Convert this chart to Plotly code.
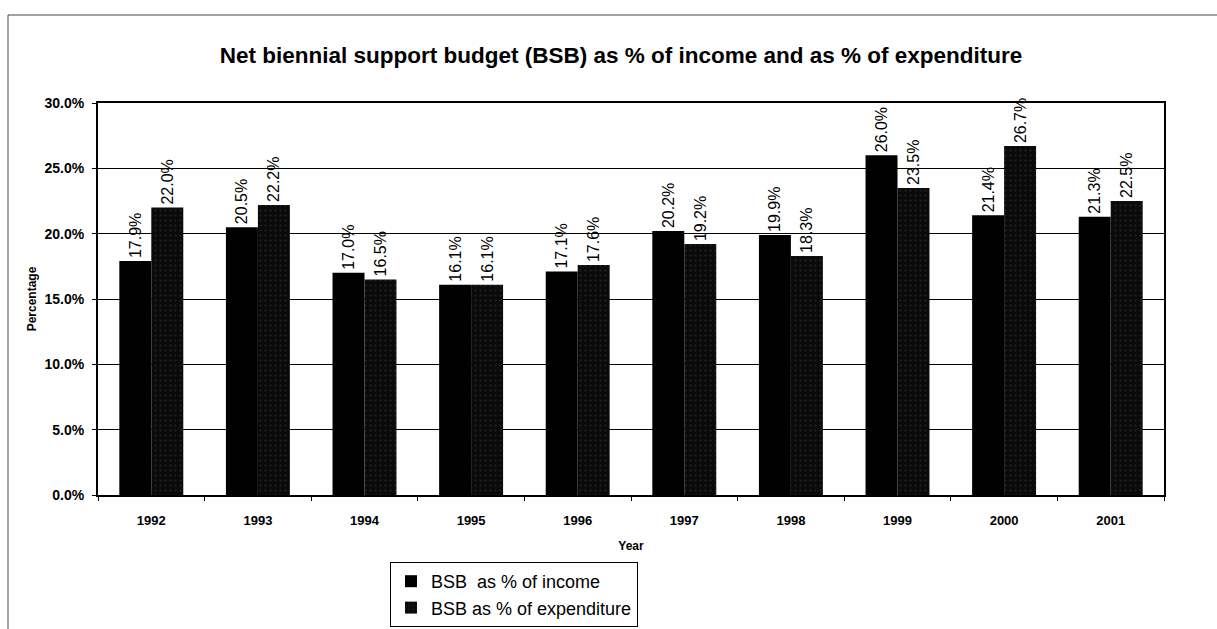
import plotly.graph_objects as go

years = ["1992", "1993", "1994", "1995", "1996", "1997", "1998", "1999", "2000", "2001"]
income_pct = [17.9, 20.5, 17.0, 16.1, 17.1, 20.2, 19.9, 26.0, 21.4, 21.3]
expenditure_pct = [22.0, 22.2, 16.5, 16.1, 17.6, 19.2, 18.3, 23.5, 26.7, 22.5]
series_names = ["BSB  as % of income", "BSB as % of expenditure"]

FONT = "Liberation Sans, Arial, sans-serif"

fig = go.Figure()
fig.add_trace(go.Bar(
    x=years, y=income_pct, name=series_names[0],
    marker=dict(color="#000000", line=dict(width=0)),
    texttemplate="%{y:.1f}%", textposition="outside", textangle=-90,
    constraintext="none",
    textfont=dict(family=FONT, size=16, color="#000"),
    cliponaxis=False,
))
fig.add_trace(go.Bar(
    x=years, y=expenditure_pct, name=series_names[1],
    marker=dict(color="#111111", line=dict(width=0),
                pattern=dict(shape=".", fgcolor="#3c3c3c", bgcolor="#0a0a0a", size=5, solidity=0.15)),
    texttemplate="%{y:.1f}%", textposition="outside", textangle=-90,
    constraintext="none",
    textfont=dict(family=FONT, size=16, color="#000"),
    cliponaxis=False,
))

L, R, T, B = 98, 53, 103, 134
W, H = 1217, 629
pw, ph = W - L - R, H - T - B

def px_x(x):
    return (x - L) / pw

def px_y(y):
    return (H - B - y) / ph

fig.update_layout(
    width=W, height=H,
    margin=dict(l=L, r=R, t=T, b=B, autoexpand=False),
    paper_bgcolor="white", plot_bgcolor="white",
    font=dict(family=FONT, color="#000"),
    bargap=0.4, bargroupgap=0,
    barmode="group",
    title=dict(
        text="<b>Net biennial support budget (BSB) as % of income and as % of expenditure</b>",
        x=621 / W, xanchor="center", y=1 - 55 / H, yanchor="middle",
        font=dict(family=FONT, size=22.5, color="#000", weight="bold"),
    ),
    xaxis=dict(
        type="category", automargin=False,
        showline=True, linecolor="#000", linewidth=2, mirror=True,
        ticks="outside", ticklen=4, tickcolor="#000", tickson="boundaries",
        ticklabelstandoff=12,
        tickfont=dict(family=FONT, size=13, color="#000", weight="bold"),
        title=dict(text="<b>Year</b>", font=dict(family=FONT, size=12, color="#000"), standoff=15),
        showgrid=False,
    ),
    yaxis=dict(
        range=[0, 30], dtick=5, tickformat=".1f", ticksuffix="%", automargin=False,
        showline=True, linecolor="#000", linewidth=2, mirror=True,
        ticks="outside", ticklen=4, tickcolor="#000",
        ticklabelstandoff=5,
        gridcolor="#000", gridwidth=1,
        tickfont=dict(family=FONT, size=14, color="#000", weight="bold"),
        title=dict(text="<b>Percentage</b>", font=dict(family=FONT, size=12, color="#000"), standoff=5),
        zeroline=False,
    ),
    legend=dict(
        x=px_x(390), y=px_y(562), xanchor="left", yanchor="top",
        bgcolor="white", bordercolor="#000", borderwidth=1,
        font=dict(family=FONT, size=18, color="#000"),
        tracegroupgap=0, itemwidth=30,
    ),
    showlegend=True,
)

# outer chart border (partially visible in the scan)
fig.add_shape(
    type="rect", xref="paper", yref="paper",
    x0=px_x(8), x1=px_x(1230), y0=px_y(640), y1=px_y(15),
    line=dict(color="#444", width=1), fillcolor="rgba(0,0,0,0)", layer="below",
)

fig.write_html("out.html", config={"displayModeBar": False},
               post_script="document.body.style.margin='0';")
